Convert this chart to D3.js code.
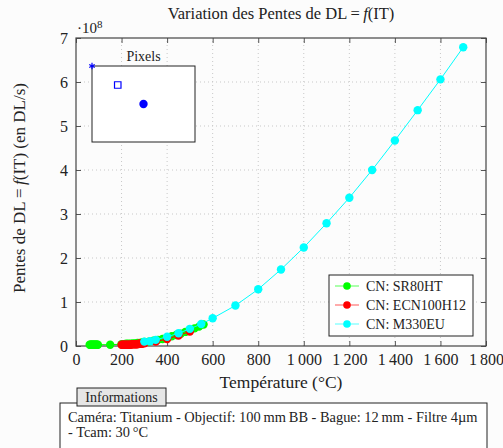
<!DOCTYPE html>
<html lang="fr">
<head>
<meta charset="UTF-8">
<title>Pentes DL</title>
<script src="https://cdn.jsdelivr.net/npm/d3@7"></script>
<style>
body { margin: 0; background: #fcfcfc; }
svg { display: block; }
svg text { font-family: 'Liberation Serif', serif; fill: #222; }
</style>
</head>
<body>
<script>
// data (y values in 1e8 DL/s)
const srTemp = [60,63,66,69,72,75,78,81,84,87,90,93,96,150,200,210,220,230,240,250,260,270,280,290,300,320,340,360,380,400,420,440,460,480,500,520,540,560];
const srSlope = [0.03,0.03,0.03,0.03,0.03,0.03,0.03,0.03,0.03,0.03,0.03,0.03,0.03,0.03,0.04,0.04,0.05,0.05,0.05,0.06,0.06,0.07,0.07,0.08,0.09,0.10,0.12,0.14,0.16,0.19,0.22,0.25,0.28,0.32,0.36,0.40,0.44,0.49];

const ecnTemp = [200,205,210,215,220,225,230,235,240,245,250,255,260,265,270,275,280,285,290,300,350,400,450,500];
const ecnSlope = [0.03,0.03,0.03,0.03,0.03,0.03,0.03,0.03,0.03,0.04,0.04,0.04,0.04,0.04,0.04,0.05,0.05,0.05,0.05,0.06,0.1,0.16,0.24,0.33];

const m330Temp = [300,325,350,400,450,500,550,600,700,800,900,1000,1100,1200,1300,1400,1500,1600,1700];
const m330Slope = [0.10,0.11,0.14,0.21,0.29,0.39,0.50,0.63,0.92,1.29,1.74,2.24,2.79,3.37,4.00,4.67,5.36,6.06,6.79];

const xTicks = [0,200,400,600,800,1000,1200,1400,1600,1800];
const yTicks = [0,1,2,3,4,5,6,7];

const seriesNames = ['CN: SR80HT', 'CN: ECN100H12', 'CN: M330EU'];
const seriesColors = ['#00ff00', '#ff0000', '#00ffff'];

// inset "Pixels" positions
const pixelX = [0, 1, 2];
const pixelY = [0, 0.75, 1.5];
const pixelShapes = ['star', 'square', 'circle'];

const infoLines = ['Caméra: Titanium - Objectif: 100\u2009mm\u2009BB - Bague: 12\u2009mm - Filtre 4\u00b5m', '- Tcam: 30\u2009°C'];

const W = 503, H = 448;
const FONT = "'Liberation Serif', serif";
const svg = d3.select('body').append('svg').attr('width', W).attr('height', H);

const x = d3.scaleLinear().domain([0, 1800]).range([76, 486]);
const y = d3.scaleLinear().domain([0, 7]).range([346, 38]);

const fmt = d => d >= 1000 ? d3.format(',')(d).replace(',', '\u2009') : String(d);

// grid
svg.append('g').selectAll('line').data(xTicks.slice(1, -1)).join('line')
    .attr('x1', d => x(d)).attr('x2', d => x(d)).attr('y1', y(0)).attr('y2', y(7))
    .attr('stroke', '#c8c8c8').attr('stroke-dasharray', '1,3').attr('stroke-width', 1);
svg.append('g').selectAll('line').data(yTicks.slice(1, -1)).join('line')
    .attr('x1', x(0)).attr('x2', x(1800)).attr('y1', d => y(d)).attr('y2', d => y(d))
    .attr('stroke', '#c8c8c8').attr('stroke-dasharray', '1,3').attr('stroke-width', 1);

// axes with inner ticks
const axB = svg.append('g').attr('transform', `translate(0,${y(0)})`)
    .call(d3.axisBottom(x).tickValues(xTicks).tickSize(-5).tickPadding(8).tickFormat(fmt));
const axT = svg.append('g').attr('transform', `translate(0,${y(7)})`)
    .call(d3.axisTop(x).tickValues(xTicks).tickSize(-5).tickFormat(''));
const axL = svg.append('g').attr('transform', `translate(${x(0)},0)`)
    .call(d3.axisLeft(y).tickValues(yTicks).tickSize(-5).tickPadding(8).tickFormat(d3.format('d')));
const axR = svg.append('g').attr('transform', `translate(${x(1800)},0)`)
    .call(d3.axisRight(y).tickValues(yTicks).tickSize(-5).tickFormat(''));
[axB, axT, axL, axR].forEach(a => {
    a.attr('font-family', FONT);
    a.select('.domain').remove();
    a.selectAll('line').attr('stroke', '#555');
    a.selectAll('text').attr('font-size', 16).attr('fill', '#222');
});
svg.append('rect').attr('x', x(0)).attr('y', y(7)).attr('width', x(1800) - x(0)).attr('height', y(0) - y(7))
    .attr('fill', 'none').attr('stroke', '#444').attr('stroke-width', 1.2);

// exponent
const ex = svg.append('text').attr('x', 77).attr('y', 33).attr('font-size', 15);
ex.append('tspan').text('\u00b710');
ex.append('tspan').attr('dy', -5).attr('font-size', 11).text('8');

// series
const series = [
    {t: srTemp, v: srSlope},
    {t: ecnTemp, v: ecnSlope},
    {t: m330Temp, v: m330Slope}
];
const line = d3.line().x(d => x(d[0])).y(d => y(d[1]));
series.forEach((s, i) => {
    const pts = s.t.map((t, j) => [t, s.v[j]]);
    const g = svg.append('g');
    g.append('path').datum(pts).attr('d', line).attr('fill', 'none')
        .attr('stroke', seriesColors[i]).attr('stroke-width', 1);
    g.selectAll('circle').data(pts).join('circle')
        .attr('cx', d => x(d[0])).attr('cy', d => y(d[1])).attr('r', 4.2)
        .attr('fill', seriesColors[i]);
});

// title
const title = svg.append('text').attr('x', 281).attr('y', 19).attr('text-anchor', 'middle').attr('font-size', 16.5);
title.append('tspan').text('Variation des Pentes de DL\u2009=\u2009');
title.append('tspan').attr('font-style', 'italic').text('f');
title.append('tspan').text('(IT)');

// axis labels
svg.append('text').attr('x', 281).attr('y', 388).attr('text-anchor', 'middle').attr('font-size', 17.5)
    .text('Température (°C)');
const yl = svg.append('text').attr('transform', 'translate(25,188) rotate(-90)')
    .attr('text-anchor', 'middle').attr('font-size', 17);
yl.append('tspan').text('Pentes de DL\u2009=\u2009');
yl.append('tspan').attr('font-style', 'italic').text('f');
yl.append('tspan').text('(IT) (en DL/s)');

// inset
const px = d3.scaleLinear().domain([0, 4]).range([92, 195]);
const py = d3.scaleLinear().domain([0, 3]).range([66, 142]);
svg.append('rect').attr('x', px(0)).attr('y', py(0)).attr('width', px(4) - px(0)).attr('height', py(3) - py(0))
    .attr('fill', '#fff').attr('stroke', '#222').attr('stroke-width', 1);
svg.append('text').attr('x', (px(0) + px(4)) / 2).attr('y', py(0) - 5).attr('text-anchor', 'middle')
    .attr('font-size', 14).text('Pixels');
const sym = {star: d3.symbolAsterisk, square: d3.symbolSquare, circle: d3.symbolCircle};
pixelShapes.forEach((s, i) => {
    const p = svg.append('path')
        .attr('transform', `translate(${px(pixelX[i])},${py(pixelY[i])})`);
    if (s === 'star') p.attr('d', d3.symbol(sym[s], 28)()).attr('stroke', '#0000ff').attr('stroke-width', 1.2).attr('fill', 'none');
    else if (s === 'square') p.attr('d', d3.symbol(sym[s], 42)()).attr('stroke', '#0000ff').attr('stroke-width', 1.2).attr('fill', 'none');
    else p.attr('d', d3.symbol(sym[s], 55)()).attr('fill', '#0000ff');
});

// legend
const lg = svg.append('g').attr('transform', 'translate(329,275)');
lg.append('rect').attr('width', 144).attr('height', 61).attr('fill', '#fff').attr('stroke', '#222').attr('stroke-width', 1);
seriesNames.forEach((n, i) => {
    const row = lg.append('g').attr('transform', `translate(0,${11 + i * 19})`);
    row.append('line').attr('x1', 6).attr('x2', 30).attr('stroke', seriesColors[i]).attr('stroke-opacity', 0.55).attr('stroke-width', 1.2);
    row.append('circle').attr('cx', 18).attr('r', 3.8).attr('fill', seriesColors[i]);
    row.append('text').attr('x', 37).attr('dy', '0.35em').attr('font-size', 14).text(n);
});

// info box
svg.append('rect').attr('x', 60).attr('y', 403).attr('width', 427).attr('height', 60)
    .attr('fill', '#fff').attr('stroke', '#222').attr('stroke-width', 1);
svg.append('rect').attr('x', 77).attr('y', 388).attr('width', 89).attr('height', 18)
    .attr('fill', '#e6e6e6').attr('stroke', '#222').attr('stroke-width', 1);
svg.append('text').attr('x', 121.5).attr('y', 401.5).attr('text-anchor', 'middle').attr('font-size', 14)
    .attr('fill', '#444').text('Informations');
infoLines.forEach((t, i) => {
    svg.append('text').attr('x', 68).attr('y', 422 + i * 15).attr('font-size', 14.4).text(t);
});
</script>
</body>
</html>
